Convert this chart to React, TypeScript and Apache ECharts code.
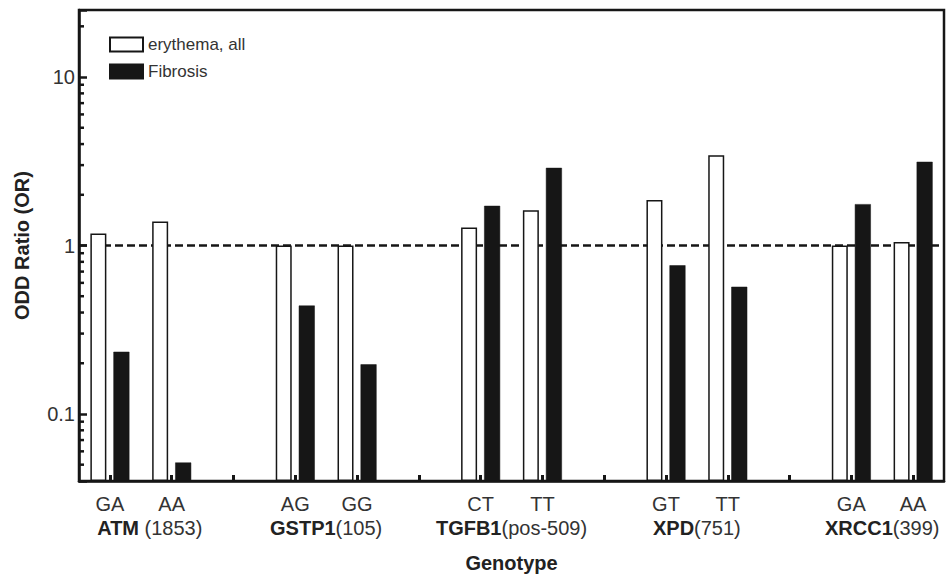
import React, { useEffect, useRef } from 'react';
import * as echarts from 'echarts';

// ---- data ----
const genes = ['ATM', 'GSTP1', 'TGFB1', 'XPD', 'XRCC1'];
const genePositions = [' (1853)', '(105)', '(pos-509)', '(751)', '(399)'];
const genotypes = ['GA', 'AA', '', 'AG', 'GG', '', 'CT', 'TT', '', 'GT', 'TT', '', 'GA', 'AA'];
const erythemaAll = [1.18, 1.39, null, 1.0, 1.0, null, 1.28, 1.62, null, 1.86, 3.43, null, 1.0, 1.05];
const fibrosis = [0.234, 0.0515, null, 0.44, 0.197, null, 1.72, 2.89, null, 0.763, 0.569, null, 1.76, 3.14];
const yMajorLabels = [0.1, 1, 10];
const yMinorTicks = [0.05, 0.06, 0.07, 0.08, 0.09, 0.2, 0.3, 0.4, 0.5, 0.6, 0.7, 0.8, 0.9, 2, 3, 4, 5, 6, 7, 8, 9, 20];
const referenceOR = 1;
const seriesNames = ['erythema, all', 'Fibrosis'];

const FONT = '"Liberation Sans", Arial, Helvetica, sans-serif';
const INK = '#161616';
const Y_MIN = 0.04;
const Y_MAX = 25;

export default function App() {
  const ref = useRef<HTMLDivElement>(null);

  useEffect(() => {
    if (!ref.current) return;
    const chart = echarts.init(ref.current, undefined, { renderer: 'svg' });
    const categoryKeys = genotypes.map((g, i) => `c${i}`);

    const option: any = {
      animation: false,
      backgroundColor: '#ffffff',
      textStyle: { fontFamily: FONT },
      grid: {
        left: 79,
        right: 2,
        top: 10,
        bottom: 95,
        show: true,
        borderColor: INK,
        borderWidth: 2.5,
        backgroundColor: 'transparent',
      },
      legend: {
        orient: 'vertical',
        left: 109,
        top: 36,
        padding: 0,
        itemWidth: 33,
        itemHeight: 14,
        itemGap: 10,
        icon: 'rect',
        selectedMode: false,
        textStyle: { fontSize: 17, color: '#333', fontFamily: FONT },
        data: seriesNames,
      },
      xAxis: [
        {
          type: 'category',
          data: categoryKeys,
          boundaryGap: true,
          z: 10,
          axisLine: { lineStyle: { color: INK, width: 2.5 } },
          axisTick: { show: true, inside: true, alignWithLabel: true, interval: 0, length: 6, lineStyle: { color: INK, width: 3 } },
          axisLabel: {
            interval: 0,
            margin: 13,
            fontSize: 20,
            color: '#333',
            fontFamily: FONT,
            formatter: (_v: string, i: number) => genotypes[i],
          },
          splitLine: { show: false },
          name: 'Genotype',
          nameLocation: 'middle',
          nameGap: 72,
          nameTextStyle: { fontSize: 20, fontWeight: 'bold', color: '#222', fontFamily: FONT },
        },
        {
          type: 'value',
          position: 'bottom',
          gridIndex: 0,
          min: 0,
          max: 28,
          interval: 2,
          offset: 0,
          axisLine: { show: false },
          axisTick: { show: false },
          splitLine: { show: false },
          axisLabel: {
            margin: 37,
            fontSize: 20,
            color: '#333',
            fontFamily: FONT,
            formatter: (v: number) => {
              const k = (v - 2) / 6;
              if (!Number.isInteger(k) || k < 0 || k >= genes.length) return '';
              const key = k === 0 ? 'a' : k === 3 ? 'x' : 'g';
              return `{${key}|${genes[k]}}{p|${genePositions[k]}}`;
            },
            rich: {
              g: { fontSize: 20, fontWeight: 'bold', color: '#222', fontFamily: FONT },
              a: { fontSize: 20, fontWeight: 'bold', color: '#222', fontFamily: FONT, padding: [0, 0, 0, 18] },
              x: { fontSize: 20, fontWeight: 'bold', color: '#222', fontFamily: FONT, padding: [0, 0, 0, 0] },
              p: { fontSize: 20, color: '#333', fontFamily: FONT },
            },
          },
        },
      ],
      yAxis: {
        type: 'log',
        logBase: 10,
        min: Y_MIN,
        max: Y_MAX,
        startValue: Y_MIN,
        z: 10,
        axisLine: { show: true, lineStyle: { color: INK, width: 2.5 } },
        axisTick: { show: true, inside: true, length: 8, lineStyle: { color: INK, width: 2.5 } },
        splitLine: { show: false },
        axisLabel: {
          margin: 4,
          fontSize: 20,
          color: '#333',
          fontFamily: FONT,
          formatter: (v: number) => {
            for (const m of yMajorLabels) {
              if (Math.abs(Math.log10(v) - Math.log10(m)) < 1e-6) return String(m);
            }
            return '';
          },
        },
        name: 'ODD Ratio (OR)',
        nameLocation: 'middle',
        nameRotate: 90,
        nameGap: 47,
        nameTextStyle: { fontSize: 20, fontWeight: 'bold', color: '#222', fontFamily: FONT },
      },
      series: [
        {
          name: 'reference',
          type: 'line',
          data: [],
          silent: true,
          markLine: {
            silent: true,
            z: 1,
            symbol: 'none',
            label: { show: false },
            lineStyle: { color: INK, type: [8, 4], width: 2.5 },
            data: [{ yAxis: referenceOR }],
          },
        },
        {
          name: seriesNames[0],
          type: 'bar',
          z: 3,
          barWidth: 16,
          barGap: '44%',
          data: erythemaAll,
          itemStyle: { color: '#ffffff', borderColor: INK, borderWidth: 1.5 },
        },
        {
          name: seriesNames[1],
          type: 'bar',
          z: 3,
          barWidth: 16,
          barGap: '44%',
          data: fibrosis,
          itemStyle: { color: INK, borderColor: INK, borderWidth: 0.5 },
        },
        {
          name: 'minorTicks',
          type: 'custom',
          silent: true,
          z: 6,
          clip: false,
          data: yMinorTicks.map((v) => [0, v]),
          encode: { x: 0, y: 1 },
          renderItem: (params: any, api: any) => {
            const y = api.coord([0, api.value(1)])[1];
            const x0 = params.coordSys.x;
            return {
              type: 'line',
              shape: { x1: x0, y1: y, x2: x0 + 5, y2: y },
              style: { stroke: INK, lineWidth: 2.5 },
            };
          },
        },
      ],
    };

    chart.setOption(option);
    return () => chart.dispose();
  }, []);

  return (
    <div
      ref={ref}
      style={{ position: 'fixed', left: 0, top: 0, width: 947, height: 578, background: '#fff' }}
    />
  );
}
